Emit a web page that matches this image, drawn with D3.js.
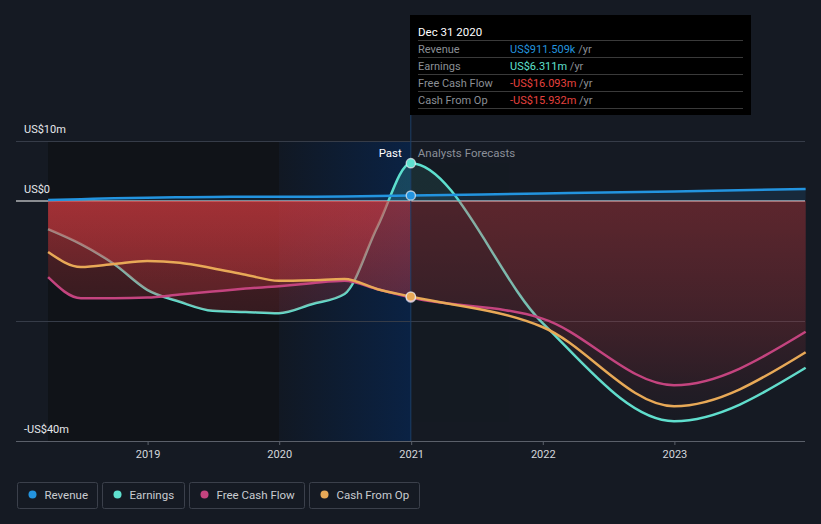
<!DOCTYPE html>
<html><head><meta charset="utf-8">
<script src="https://cdn.jsdelivr.net/npm/d3@7"></script>
<style>
html,body{margin:0;padding:0;background:#151a23;}
svg{display:block;font-family:Roboto,"Noto Sans",sans-serif;}
</style></head>
<body>
<svg id="chart" width="821" height="524"></svg>
<script>
// ---------- data (US$ millions) ----------
const pastDates = ["2018-03-31","2018-06-30","2018-09-30","2018-12-31","2019-03-31","2019-06-30","2019-09-30","2019-12-31","2020-03-31","2020-06-30","2020-09-30","2020-12-31"];
const forecastDates = ["2021-12-31","2022-12-31","2023-12-31"];
const revenuePast = [0.15,0.3,0.45,0.55,0.62,0.68,0.7,0.7,0.72,0.75,0.82,0.9115];
const revenueForecast = [1.25,1.6,2.0];
const earningsPast = [-4.7,-7.2,-10.5,-14.8,-16.8,-18.3,-18.5,-18.7,-17.2,-15.5,-4.2,6.311];
const earningsForecast = [-20.3,-36.7,-27.8];
const fcfPast = [-12.7,-16.2,-16.2,-16.1,-15.6,-15.1,-14.6,-14.2,-13.7,-13.3,-14.7,-16.093];
const fcfForecast = [-19.6,-30.7,-21.8];
const cfoPast = [-8.5,-11.0,-10.5,-10.0,-10.3,-11.2,-12.3,-13.3,-13.2,-13.0,-14.7,-15.932];
const cfoForecast = [-21.0,-34.2,-25.2];
const seriesNames = ["Revenue","Earnings","Free Cash Flow","Cash From Op"];
const seriesColors = ["#2394df","#5fe0cf","#c4447f","#e8a957"];
const yTickValues = [10,0,-40];
const yTickLabels = ["US$10m","US$0","-US$40m"];
const gridValues = [10,-20];
const xTickYears = [2019,2020,2021,2022,2023];
const tooltipDate = "Dec 31 2020";
const tooltipValues = ["US$911.509k","US$6.311m","-US$16.093m","-US$15.932m"];
const tooltipValueColors = ["#2394df","#5fe0cf","#e5423f","#e5423f"];

// ---------- scales ----------
const svg = d3.select("#chart");
const parse = d3.timeParse("%Y-%m-%d");
const x = d3.scaleTime().domain([new Date(2018,0,1), new Date(2024,0,1)]).range([16,806]);
const y = d3.scaleLinear().domain([-40,10]).range([441,141]);
const allDates = pastDates.concat(forecastDates).map(parse);
const mk = (p,f) => p.concat(f).map((v,i)=>({d:allDates[i], v}));
const revenue = mk(revenuePast, revenueForecast);
const earnings = mk(earningsPast, earningsForecast);
const fcf = mk(fcfPast, fcfForecast);
const cfo = mk(cfoPast, cfoForecast);
const nowDate = parse(pastDates[pastDates.length-1]);
const xNow = x(nowDate), xStart = x(allDates[0]), xEnd = x(allDates[allDates.length-1]);
const x2020 = x(new Date(2020,0,1));

const defs = svg.append("defs");
const g1 = defs.append("linearGradient").attr("id","areaGrad").attr("gradientUnits","userSpaceOnUse")
  .attr("x1",0).attr("x2",0).attr("y1",y(10)).attr("y2",y(-40));
g1.append("stop").attr("offset",0).attr("stop-color","#4fd6c6").attr("stop-opacity",0.2);
g1.append("stop").attr("offset",0.2).attr("stop-color","#4fd6c6").attr("stop-opacity",0.2);
g1.append("stop").attr("offset",0.2).attr("stop-color","#dc3c41").attr("stop-opacity",0.34);
g1.append("stop").attr("offset",1).attr("stop-color","#dc3c41").attr("stop-opacity",0.0);
const g2 = defs.append("linearGradient").attr("id","bandGrad").attr("x1",0).attr("x2",1).attr("y1",0).attr("y2",0);
g2.append("stop").attr("offset",0).attr("stop-color","#111823");
g2.append("stop").attr("offset",1).attr("stop-color","#0a2244");
defs.append("clipPath").attr("id","clipPast").append("rect")
  .attr("x",0).attr("y",0).attr("width",xNow).attr("height",524);
defs.append("clipPath").attr("id","clipFut").append("rect")
  .attr("x",xNow).attr("y",0).attr("width",821-xNow).attr("height",524);

// ---------- background bands ----------
svg.append("rect").attr("x",xStart).attr("y",y(10)).attr("width",x2020-xStart).attr("height",y(-40)-y(10)).attr("fill","#101318");
svg.append("rect").attr("x",x2020).attr("y",y(10)).attr("width",xNow-x2020).attr("height",y(-40)-y(10)).attr("fill","url(#bandGrad)");

// gridlines
svg.selectAll("line.grid").data(gridValues).join("line").attr("class","grid")
  .attr("x1",16).attr("x2",805).attr("y1",d=>y(d)+0.5).attr("y2",d=>y(d)+0.5)
  .attr("stroke","#363c48").attr("stroke-width",1);
// zero line
svg.append("line").attr("x1",16).attr("x2",805).attr("y1",y(0)).attr("y2",y(0))
  .attr("stroke","#ffffff").attr("stroke-width",1.2);

// ---------- lines/areas ----------
const curve = d3.curveMonotoneX;
const line = d3.line().x(d=>x(d.d)).y(d=>y(d.v)).curve(curve);
const area = d3.area().x(d=>x(d.d)).y0(y(0)).y1(d=>y(d.v)).curve(curve);

// earnings line (under areas)
svg.append("path").attr("d",line(earnings)).attr("fill","none").attr("stroke",seriesColors[1]).attr("stroke-width",2.5);

function drawAreas(group){
  [earnings,fcf,cfo].forEach(s=>{
    group.append("path").attr("d",area(s)).attr("fill","url(#areaGrad)");
  });
}
drawAreas(svg.append("g").attr("clip-path","url(#clipPast)"));
drawAreas(svg.append("g").attr("clip-path","url(#clipFut)").attr("opacity",0.5));

// revenue area
svg.append("path").attr("d",area(revenue)).attr("fill","#2394df").attr("opacity",0.13);

svg.append("path").attr("d",line(fcf)).attr("fill","none").attr("stroke",seriesColors[2]).attr("stroke-width",2.5);
svg.append("path").attr("d",line(cfo)).attr("fill","none").attr("stroke",seriesColors[3]).attr("stroke-width",2.5);
svg.append("path").attr("d",line(revenue)).attr("fill","none").attr("stroke",seriesColors[0]).attr("stroke-width",2.5);

// now line
svg.append("line").attr("x1",xNow).attr("x2",xNow).attr("y1",115).attr("y2",441)
  .attr("stroke","#1d3f66").attr("stroke-width",1);

// markers
const nowIdx = pastDates.length-1;
const markerData = [
  {s:earnings,c:seriesColors[1]},{s:revenue,c:seriesColors[0]},
  {s:fcf,c:seriesColors[2]},{s:cfo,c:seriesColors[3]}];
svg.selectAll("circle.mk").data(markerData).join("circle").attr("class","mk")
  .attr("cx",d=>x(d.s[nowIdx].d)).attr("cy",d=>y(d.s[nowIdx].v)).attr("r",4.6)
  .attr("fill",d=>d.c).attr("stroke","rgba(235,240,245,0.7)").attr("stroke-width",1.4);

// Past / forecast labels
svg.append("text").attr("x",xNow-9).attr("y",157).attr("text-anchor","end")
  .attr("fill","#ffffff").attr("font-size",11.5).text("Past");
svg.append("text").attr("x",xNow+7).attr("y",157).attr("fill","#8a8f98").attr("font-size",11.5).text("Analysts Forecasts");

// y labels
svg.selectAll("text.yl").data(yTickValues).join("text").attr("class","yl")
  .attr("x",24).attr("y",d=>y(d)-8).attr("fill","#e6e8eb").attr("font-size",11)
  .text((d,i)=>yTickLabels[i]);

// x axis
svg.append("line").attr("x1",16).attr("x2",805).attr("y1",441.5).attr("y2",441.5).attr("stroke","#5b606a");
const xAxis = d3.axisBottom(x).tickValues(xTickYears.map(yv=>new Date(yv,0,1)))
  .tickFormat(d3.timeFormat("%Y")).tickSize(4).tickPadding(5);
const ax = svg.append("g").attr("transform","translate(0,441)").call(xAxis);
ax.select(".domain").remove();
ax.selectAll(".tick line").attr("stroke","#5b606a");
ax.selectAll(".tick text").attr("fill","#d4d7dc").attr("font-size",11).attr("font-family","Roboto,sans-serif");

// ---------- tooltip ----------
const tt = svg.append("g");
tt.append("rect").attr("x",410).attr("y",15).attr("width",341).attr("height",100).attr("fill","#000000");
tt.append("text").attr("x",418).attr("y",35.5).attr("fill","#ffffff").attr("font-size",11.5).text(tooltipDate);
seriesNames.forEach((n,i)=>{
  const ly = 40 + i*17;
  tt.append("line").attr("x1",418).attr("x2",743).attr("y1",ly+0.5).attr("y2",ly+0.5).attr("stroke","#3a3a3a");
  tt.append("text").attr("x",418).attr("y",ly+13).attr("fill","#8b8f95").attr("font-size",11).text(n);
  const t = tt.append("text").attr("x",510).attr("y",ly+13).attr("font-size",11);
  t.append("tspan").attr("fill",tooltipValueColors[i]).text(tooltipValues[i]);
  t.append("tspan").attr("fill","#8b8f95").text(" /yr");
});
tt.append("line").attr("x1",418).attr("x2",743).attr("y1",108.5).attr("y2",108.5).attr("stroke","#3a3a3a");

// ---------- legend ----------
const legendX = [17,102,189,309];
const legendW = [80,82,115,110];
const lg = svg.append("g");
seriesNames.forEach((n,i)=>{
  const g = lg.append("g").attr("transform",`translate(${legendX[i]},482)`);
  g.append("rect").attr("x",0.5).attr("y",0.5).attr("width",legendW[i]).attr("height",26).attr("rx",2)
    .attr("fill","none").attr("stroke","#3b404b");
  g.append("circle").attr("cx",15.5).attr("cy",12.5).attr("r",4).attr("fill",seriesColors[i]);
  g.append("text").attr("x",27.5).attr("y",17).attr("fill","#c9ccd1").attr("font-size",11.5).text(n);
});
</script>
</body></html>
